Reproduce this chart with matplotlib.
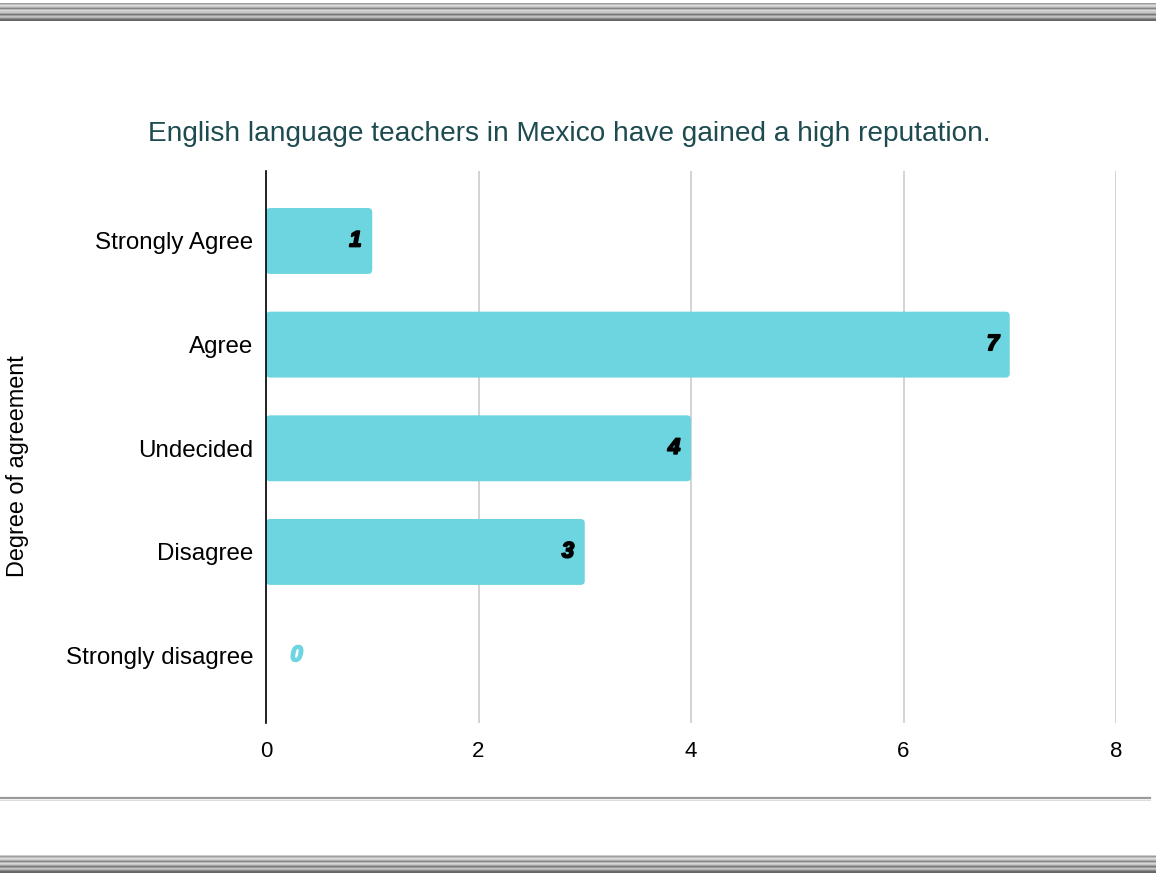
import matplotlib
matplotlib.use("Agg")
import matplotlib.pyplot as plt
import matplotlib.patheffects as pe
from matplotlib.patches import FancyBboxPatch
from matplotlib.lines import Line2D
import numpy as np

plt.rcParams['font.family'] = ['Liberation Sans', 'DejaVu Sans']

categories = ["Strongly Agree", "Agree", "Undecided", "Disagree", "Strongly disagree"]
counts = [1, 7, 4, 3, 0]
x_ticks = [0, 2, 4, 6, 8]

title = "English language teachers in Mexico have gained a high reputation."
y_title = "Degree of agreement"

bar_color = "#6dd5df"
W, H = 1156, 874
fig = plt.figure(figsize=(W / 100, H / 100), dpi=100)
fig.patch.set_facecolor("white")

# Decorative striped bands at the top and bottom of the page
band_rows = [0.80, 0.62, 0.74, 0.86, 0.80, 0.68, 0.52, 0.72, 0.84, 0.78,
             0.64, 0.48, 0.62, 0.76, 0.70, 0.54, 0.42, 0.40]
for top in (3, 855):
    bax = fig.add_axes([0, 1 - (top + len(band_rows)) / H, 1, len(band_rows) / H])
    bax.imshow(np.array(band_rows)[:, None] * np.ones((1, 10)), cmap="gray",
               vmin=0, vmax=1, aspect="auto", interpolation="nearest")
    bax.axis("off")

# Thin separator line beneath the chart
fig.add_artist(Line2D([0, 1150 / W], [1 - 797.5 / H] * 2, color="#9a9a9a", lw=1.6))
fig.add_artist(Line2D([0, 1150 / W], [1 - 799.5 / H] * 2, color="#dddddd", lw=0.8))

ax = fig.add_axes([266 / W, 1 - 723 / H, (1116 - 266) / W, (723 - 171) / H])
y = np.arange(len(categories))
bar_h = 0.636
ax.set_xlim(0, 8)
ax.set_ylim(4.65, -0.675)

ax.xaxis.grid(True, color="#cccccc", lw=1.2)
ax.set_axisbelow(True)

for yi, v in zip(y, counts):
    color = "black" if v > 0 else bar_color
    if v > 0:
        p = FancyBboxPatch((0, yi - bar_h / 2), v, bar_h,
                           boxstyle="round,pad=0,rounding_size=0.04",
                           mutation_aspect=1.0,
                           facecolor=bar_color, edgecolor="none", zorder=2)
        ax.add_patch(p)
        tx, ha = v - 0.1, "right"
    else:
        tx, ha = 0.23, "left"
    ax.text(tx, yi, str(v), ha=ha, va="center", fontsize=16,
            fontweight="bold", fontstyle="italic", color=color, zorder=3,
            path_effects=[pe.withStroke(linewidth=1.3, foreground=color)])

ax.set_yticks(y)
ax.set_yticklabels(categories, fontsize=17.4)
ax.set_xticks(x_ticks)
ax.set_xticklabels([str(t) for t in x_ticks], fontsize=16)
ax.tick_params(axis="y", length=0, pad=9)
ax.tick_params(axis="x", length=0, pad=13)
for s in ("top", "right", "bottom"):
    ax.spines[s].set_visible(False)
ax.spines["left"].set_color("black")
ax.spines["left"].set_linewidth(1.2)
ax.spines["left"].set_zorder(4)

fig.text(569 / W, 1 - 134 / H, title, ha="center", va="center",
         fontsize=20.2, color="#1d4b50")
fig.text(18 / W, 1 - 466 / H, y_title, ha="center", va="center",
         rotation=90, fontsize=16.9, color="black")

fig.savefig("out.png", dpi=100, facecolor="white")
